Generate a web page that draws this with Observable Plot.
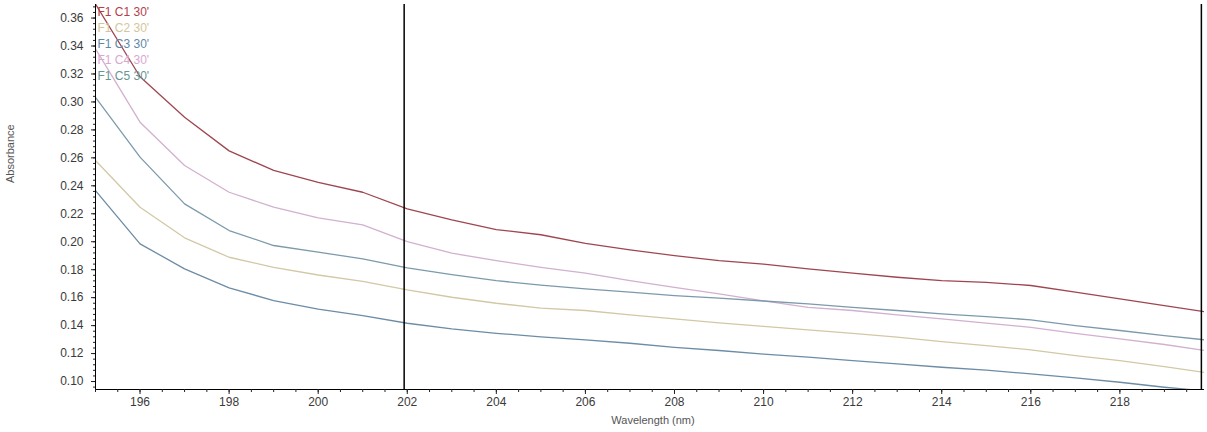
<!DOCTYPE html>
<html>
<head>
<meta charset="utf-8">
<script src="https://cdn.jsdelivr.net/npm/d3@7"></script>
<script src="https://cdn.jsdelivr.net/npm/@observablehq/plot@0.6"></script>
<style>
  html, body { margin: 0; padding: 0; background: #fff; overflow: hidden; }
</style>
</head>
<body>
<div id="chart"></div>
<script>
// Wavelength samples (nm)
const wavelength = [195, 196, 197, 198, 199, 200, 201, 202, 203, 204, 205, 206, 207,
  208, 209, 210, 211, 212, 213, 214, 215, 216, 217, 218, 219, 220];

// Absorbance spectra, one array per sample
const c1 = [0.370, 0.318, 0.289, 0.265, 0.251, 0.2425, 0.2354, 0.2235, 0.2157, 0.2087, 0.2050, 0.1989, 0.1942,
  0.1901, 0.1865, 0.1840, 0.1806, 0.1775, 0.1746, 0.1722, 0.1709, 0.1687, 0.1639, 0.1591, 0.1543, 0.1495];
const c2 = [0.2581, 0.2247, 0.2028, 0.1889, 0.1817, 0.1762, 0.1717, 0.1656, 0.1603, 0.1560, 0.1525, 0.1508, 0.1477,
  0.1448, 0.1420, 0.1394, 0.1370, 0.1345, 0.1317, 0.1286, 0.1257, 0.1227, 0.1186, 0.1150, 0.1107, 0.1060];
const c3 = [0.2366, 0.1985, 0.1806, 0.1670, 0.1579, 0.1518, 0.1472, 0.1417, 0.1377, 0.1345, 0.1320, 0.1298, 0.1274,
  0.1245, 0.1222, 0.1196, 0.1174, 0.1150, 0.1126, 0.1102, 0.1081, 0.1055, 0.1026, 0.0995, 0.0959, 0.0930];
const c4 = [0.338, 0.2855, 0.2545, 0.2354, 0.2247, 0.2170, 0.2121, 0.2001, 0.1918, 0.1865, 0.1817, 0.1775, 0.1722,
  0.1674, 0.1627, 0.1577, 0.1531, 0.1508, 0.1477, 0.1448, 0.1418, 0.1388, 0.1345, 0.1305, 0.1265, 0.1218];
const c5 = [0.3033, 0.2605, 0.2271, 0.2080, 0.1973, 0.1926, 0.1877, 0.1813, 0.1765, 0.1722, 0.1689, 0.1663, 0.1639,
  0.1615, 0.1596, 0.1576, 0.1556, 0.1531, 0.1508, 0.1484, 0.1465, 0.1441, 0.1400, 0.1365, 0.1329, 0.1295];

const seriesNames = ["F1 C1 30'", "F1 C2 30'", "F1 C3 30'", "F1 C4 30'", "F1 C5 30'"];
const seriesValues = [c1, c2, c3, c4, c5];
const seriesColors = ["#b3414c", "#d4c69c", "#5f87a6", "#d8a8d2", "#679595"];
const lineColors = ["#9e4650", "#d2c8a6", "#6d8ca5", "#d2b0cf", "#7c9aab"];

// Cursor positions (nm)
const cursors = [201.93, 219.83];

// Axis extents and ticks
const xDomain = [195, 219.9];
const yDomain = [0.0943, 0.3697];
const xMajor = d3.range(196, 220, 2);
const xMinor = d3.range(195, 220, 0.5);
const yMajor = d3.range(5, 19).map(i => i / 50);
const yMinor = d3.range(24, 93).map(i => i / 250);

// Long-format table for the line marks
const rows = seriesNames.flatMap((name, s) =>
  wavelength.map((w, i) => ({series: name, wavelength: w, absorbance: seriesValues[s][i]})));

const chart = Plot.plot({
  width: 1207,
  height: 432,
  marginLeft: 95,
  marginRight: 3,
  marginTop: 4,
  marginBottom: 43,
  style: {fontFamily: "'Liberation Sans', Arial, sans-serif", fontSize: "12px", color: "#333", background: "#fff"},
  x: {domain: xDomain},
  y: {domain: yDomain},
  color: {domain: seriesNames, range: lineColors},
  marks: [
    Plot.line(rows, {x: "wavelength", y: "absorbance", z: "series", stroke: "series",
      strokeWidth: 1.3, curve: "linear", clip: true}),
    Plot.ruleX(cursors, {stroke: "#000", strokeWidth: 1.5}),
    Plot.ruleX([xDomain[0]], {stroke: "#000", strokeWidth: 1}),
    Plot.ruleY([yDomain[0]], {stroke: "#000", strokeWidth: 1}),
    Plot.axisX(xMinor, {tickSize: 3, tickFormat: () => "", label: null, stroke: "#222"}),
    Plot.axisX(xMajor, {tickSize: 5, tickPadding: 3, tickFormat: d => String(d), label: null,
      stroke: "#222", fill: "#3a3a3a", fontSize: 12}),
    Plot.axisY(yMinor, {tickSize: 2, tickFormat: () => "", label: null, stroke: "#222"}),
    Plot.axisY(yMajor, {tickSize: 4, tickPadding: 8, tickFormat: d3.format(".2f"), label: null,
      stroke: "#222", fill: "#3a3a3a", fontSize: 12}),
    Plot.text(["Absorbance"], {frameAnchor: "left", text: d => d, rotate: -90, dx: -85, dy: -14,
      fontSize: 11, fill: "#555"}),
    Plot.text(["Wavelength (nm)"], {frameAnchor: "bottom", text: d => d, dx: 3, dy: 34,
      fontSize: 11, fill: "#555"}),
    ...seriesNames.map((name, i) =>
      Plot.text([name], {frameAnchor: "top-left", text: d => d, dx: 2, dy: 2.5 + i * 16.2,
        lineAnchor: "top", textAnchor: "start", fontSize: 12, fill: seriesColors[i]}))
  ]
});

document.getElementById("chart").append(chart);
</script>
</body>
</html>
